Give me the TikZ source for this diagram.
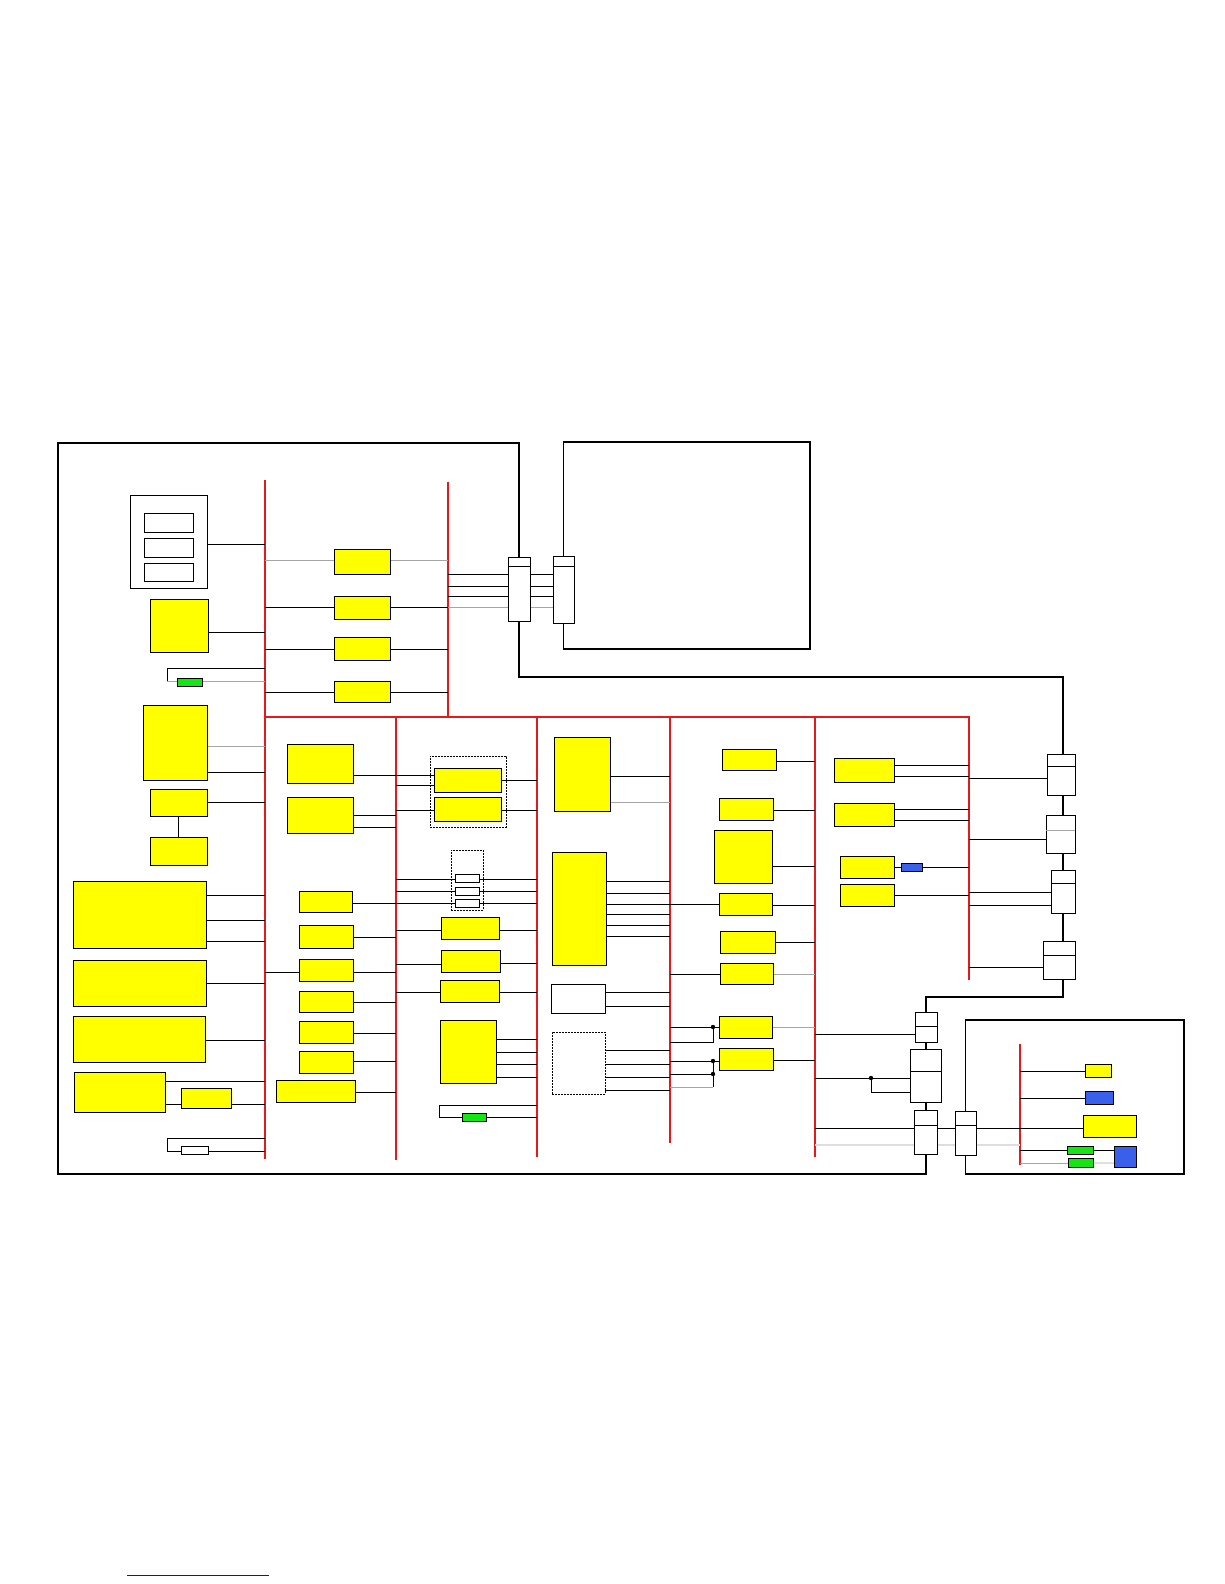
\documentclass[tikz,border=0pt]{standalone}
\usetikzlibrary{backgrounds}
\definecolor{rd}{RGB}{226,26,28}
\definecolor{yl}{RGB}{255,255,0}
\definecolor{gn}{RGB}{20,230,20}
\definecolor{bl}{RGB}{58,95,235}
\definecolor{lnk}{RGB}{20,20,160}
\newcommand\bx[6]{\node[#1,minimum width={(#5-#3)*1pt},minimum height={(#6-#4)*1pt}] (#2) at ({(#3+#5)/2},{(#4+#6)/2}) {};}
\newcommand\kon[6]{\bx{wb}{#1}{#2}{#3}{#4}{#5}\draw[ln] (#1.west |- 0,#6) -- (#1.east |- 0,#6);}
\newcommand\hl[4][ln]{\draw[#1] (#2 |- 0,#4) -- (#3 |- 0,#4);}
\begin{document}
\begin{tikzpicture}[x=1pt,y=-1pt,
  boxbase/.style={draw,line width=0.8pt,inner sep=0pt,outer sep=0pt},
  yb/.style={boxbase,fill=yl},
  wb/.style={boxbase,fill=white},
  gb/.style={boxbase,fill=gn},
  bb/.style={boxbase,fill=bl},
  db/.style={draw,line width=0.8pt,dash pattern=on 1.6pt off 1.4pt,inner sep=0pt,outer sep=0pt},
  ln/.style={line width=0.8pt},
  gl/.style={line width=0.8pt,color=black!35},
  lg/.style={line width=1.6pt,color=black!13},
  frame/.style={line width=1.7pt},
  bus/.style={draw=rd,line width=1.8pt},
  tbus/.style={draw=rd,line width=1.1pt}]
\useasboundingbox (0,0) rectangle (1224,1584);
% ---------- boxes ----------
% column 1
\bx{wb}{w0}{130}{495}{207}{588}
\bx{wb}{w1}{144}{513}{193}{532}
\bx{wb}{w2}{144}{538}{193}{557}
\bx{wb}{w3}{144}{563}{193}{581}
\bx{yb}{a1}{150}{599}{208}{652}
\bx{gb}{g1}{177}{678}{202}{686}
\bx{yb}{a2}{143}{705}{207}{780}
\bx{yb}{a3}{150}{789}{207}{816}
\bx{yb}{a4}{150}{837}{207}{865}
\bx{yb}{a5}{73}{881}{206}{948}
\bx{yb}{a6}{73}{960}{206}{1006}
\bx{yb}{a7}{73}{1016}{205}{1062}
\bx{yb}{a8}{74}{1072}{165}{1112}
\bx{yb}{a9}{181}{1088}{231}{1108}
\bx{wb}{a10}{181}{1146}{208}{1154}
% top column
\bx{yb}{t1}{334}{549}{390}{574}
\bx{yb}{t2}{334}{596}{390}{619}
\bx{yb}{t3}{334}{637}{390}{660}
\bx{yb}{t4}{334}{681}{390}{702}
% column 2
\bx{yb}{c1}{287}{744}{353}{783}
\bx{yb}{c2}{287}{797}{353}{833}
\bx{yb}{c3}{299}{891}{352}{912}
\bx{yb}{c4}{299}{925}{353}{948}
\bx{yb}{c5}{299}{959}{353}{981}
\bx{yb}{c6}{299}{991}{353}{1012}
\bx{yb}{c7}{299}{1021}{353}{1043}
\bx{yb}{c8}{299}{1051}{353}{1073}
\bx{yb}{c9}{276}{1080}{355}{1102}
% column 3
\bx{db}{dA}{430}{756}{506}{827}
\bx{yb}{d1}{434}{768}{501}{792}
\bx{yb}{d2}{434}{797}{501}{821}
\bx{db}{dB}{451}{850}{483}{910}
\bx{wb}{s1}{455}{874}{479}{882}
\bx{wb}{s2}{455}{887}{479}{895}
\bx{wb}{s3}{455}{899}{479}{907}
\bx{yb}{e1}{441}{917}{499}{939}
\bx{yb}{e2}{441}{950}{500}{972}
\bx{yb}{e3}{440}{980}{499}{1002}
\bx{yb}{e4}{440}{1020}{496}{1083}
\bx{gb}{g2}{462}{1113}{486}{1121}
% column 4
\bx{yb}{f1}{554}{737}{610}{811}
\bx{yb}{f2}{552}{852}{606}{965}
\bx{wb}{f3}{551}{984}{605}{1013}
\bx{db}{fD}{552}{1032}{605}{1094}
% column 5
\bx{yb}{h1}{722}{749}{776}{770}
\bx{yb}{h2}{719}{798}{773}{820}
\bx{yb}{h3}{714}{830}{772}{883}
\bx{yb}{h4}{719}{893}{772}{915}
\bx{yb}{h5}{720}{931}{775}{953}
\bx{yb}{h6}{720}{963}{773}{984}
\bx{yb}{h7}{719}{1016}{772}{1038}
\bx{yb}{h8}{719}{1048}{773}{1070}
% column 6
\bx{yb}{i1}{834}{758}{894}{782}
\bx{yb}{i2}{834}{803}{894}{826}
\bx{yb}{i3}{840}{856}{894}{878}
\bx{bb}{bi}{901}{863}{922}{871}
\bx{yb}{i4}{840}{884}{894}{906}
% right box
\bx{yb}{r1}{1085}{1064}{1111}{1077}
\bx{bb}{r2}{1085}{1091}{1113}{1104}
\bx{yb}{r3}{1083}{1115}{1136}{1137}
\bx{gb}{r4}{1067}{1146}{1093}{1154}
\bx{bb}{r5}{1114}{1146}{1136}{1167}
\bx{gb}{r6}{1068}{1158}{1093}{1167}
% connectors
\kon{k1}{508}{557}{530}{621}{566}
\kon{k2}{553}{556}{574}{623}{566}
\kon{kE}{1047}{754}{1075}{795}{766}
\bx{wb}{kF}{1046}{815}{1075}{853}\draw[gl] (kF.west |- 0,830) -- (kF.east |- 0,830);
\kon{kG}{1051}{870}{1075}{913}{883}
\kon{kH}{1043}{941}{1075}{979}{955}
\kon{kA}{915}{1012}{937}{1042}{1026}
\kon{kB}{910}{1049}{941}{1102}{1071}
\kon{kC}{914}{1110}{937}{1154}{1125}
\kon{kD}{955}{1111}{976}{1155}{1125}
% junction dots
\coordinate (dot1) at (713,1027);
\coordinate (dot2) at (713,1061);
\coordinate (dot3) at (713,1074);
\coordinate (dot4) at (871,1078);
\foreach \d in {dot1,dot2,dot3,dot4} {\fill (\d) circle (2.2);}
% link
\coordinate (lk1) at (127,1575);
\coordinate (lk2) at (269,1575);
\draw[lnk,line width=1pt] (lk1) -- (lk2);
% bus coordinates
\coordinate (b1) at (265,0);
\coordinate (bt) at (448,0);
\coordinate (b2) at (396,0);
\coordinate (b3) at (537,0);
\coordinate (b4) at (670,0);
\coordinate (b5) at (815,0);
\coordinate (b6) at (969,0);
\coordinate (br) at (1020,0);
\begin{pgfonlayer}{background}
\fill[white] (0,0) rectangle (1224,1584);
% frames
\draw[frame] (k1.south) -- (519,677) -- (1063,677) -- (1063,997) -- (926,997) -- (926,1174) -- (58,1174) -- (58,443) -- (519,443) -- (k1.north);
\draw[frame] (k2.north) -- (k2.north |- 0,442) -- (810,442) -- (810,649) -- (k2.south |- 0,649) -- (k2.south);
\draw[frame] (kD.north) -- (kD.north |- 0,1020) -- (1184,1020) -- (1184,1174) -- (kD.south |- 0,1174) -- (kD.south);
% buses
\draw[tbus] (b1 |- 0,480) -- (b1 |- 0,1159);
\draw[bus] (bt |- 0,482) -- (bt |- 0,717);
\draw[bus] (b1 |- 0,717) -- (b6 |- 0,717) -- (b6 |- 0,980);
\draw[bus] (b2 |- 0,717) -- (b2 |- 0,1160);
\draw[tbus] (b3 |- 0,717) -- (b3 |- 0,1157);
\draw[bus] (b4 |- 0,717) -- (b4 |- 0,1143);
\draw[bus] (b5 |- 0,717) -- (b5 |- 0,1157);
\draw[tbus] (br |- 0,1044) -- (br |- 0,1165);
% column 1 lines
\hl{w0.east}{b1}{544}
\hl{a1.east}{b1}{632}
\draw[ln] (b1 |- 0,668) -- (167,668) -- (167,681);
\draw[gl] (167,681) -- (g1.west |- 0,681);
\hl[gl]{g1.east}{b1}{681}
\hl[gl]{a2.east}{b1}{746}
\hl{a2.east}{b1}{772}
\hl{a3.east}{b1}{802}
\draw[ln] (a3.south) -- (a4.north);
\foreach \yy in {895,920,941} {\hl{a5.east}{b1}{\yy}}
\hl{a6.east}{b1}{983}
\hl{a7.east}{b1}{1040}
\hl{a8.east}{b1}{1081}
\hl{a8.east}{a9.west}{1104}
\hl{a9.east}{b1}{1104}
\draw[ln] (b1 |- 0,1138) -- (167,1138) -- (167,1151) -- (a10.west |- 0,1151);
\hl{a10.east}{b1}{1151}
% top column lines
\hl[gl]{b1}{t1.west}{560}
\hl[gl]{t1.east}{bt}{560}
\hl{b1}{t2.west}{607}
\hl{t2.east}{bt}{607}
\hl{b1}{t3.west}{649}
\hl{t3.east}{bt}{649}
\hl{b1}{t4.west}{692}
\hl{t4.east}{bt}{692}
\foreach \yy in {574,586,596} {\hl{bt}{k1.west}{\yy}\hl{k1.east}{k2.west}{\yy}}
\hl[gl]{bt}{k1.west}{607}
\hl[gl]{k1.east}{k2.west}{607}
% column 2/3 lines
\hl{c1.east}{d1.west}{775}
\hl{c2.east}{b2}{815}
\hl{c2.east}{b2}{827}
\hl{b2}{d1.west}{785}
\hl{b2}{d2.west}{810}
\hl{d1.east}{b3}{780}
\hl{d2.east}{b3}{810}
\hl{b2}{b3}{879}
\hl{b2}{b3}{891}
\hl{c3.east}{b3}{903}
\hl{c4.east}{b2}{937}
\hl{b2}{e1.west}{930}
\hl{e1.east}{b3}{930}
\hl{b1}{c5.west}{972}
\hl{c5.east}{b2}{972}
\hl{b2}{e2.west}{964}
\hl{e2.east}{b3}{963}
\hl{c6.east}{b2}{1002}
\hl{b2}{e3.west}{992}
\hl{e3.east}{b3}{992}
\hl{c7.east}{b2}{1033}
\hl{c8.east}{b2}{1061}
\hl{c9.east}{b2}{1092}
\foreach \yy in {1039,1052,1064,1077} {\hl{e4.east}{b3}{\yy}}
\draw[ln] (b3 |- 0,1105) -- (439,1105) -- (439,1117) -- (g2.west |- 0,1117);
\hl{g2.east}{b3}{1117}
% column 4 lines
\hl{f1.east}{b4}{776}
\hl[gl]{f1.east}{b4}{802}
\foreach \yy in {881,893,904,914,925,936} {\hl{f2.east}{b4}{\yy}}
\hl{f3.east}{b4}{992}
\hl{f3.east}{b4}{1006}
\foreach \yy in {1050,1064,1077,1090} {\hl{fD.east}{b4}{\yy}}
% column 5 lines
\hl{h1.east}{b5}{761}
\hl{h2.east}{b5}{810}
\hl{h3.east}{b5}{866}
\hl{b4}{h4.west}{904}
\hl{h4.east}{b5}{905}
\hl{h5.east}{b5}{942}
\hl{b4}{h6.west}{974}
\hl[gl]{h6.east}{b5}{974}
\hl{b4}{h7.west}{1027}
\draw[ln] (dot1) -- (713,1042) -- (b4 |- 0,1042);
\hl[gl]{h7.east}{b5}{1027}
\hl{b4}{h8.west}{1061}
\hl{b4}{dot3}{1074}
\draw[ln] (dot2) -- (713,1087);
\draw[gl] (713,1087) -- (b4 |- 0,1087);
\hl{h8.east}{b5}{1060}
% column 6 lines
\hl{i1.east}{b6}{765}
\hl{i1.east}{b6}{776}
\hl{i2.east}{b6}{809}
\hl{i2.east}{b6}{820}
\hl{i3.east}{bi.west}{867}
\hl{bi.east}{b6}{867}
\hl{i4.east}{b6}{895}
\hl{b6}{kE.west}{778}
\hl{b6}{kF.west}{839}
\hl{b6}{kG.west}{892}
\hl{b6}{kG.west}{905}
\hl{b6}{kH.west}{967}
% right area lines
\hl{b5}{kA.west}{1034}
\hl{b5}{kB.west}{1078}
\draw[ln] (dot4) -- (871,1092) -- (kB.west |- 0,1092);
\draw[lg] (b5 |- 0,1145) -- (br |- 0,1145);
\hl{b5}{r3.west}{1128}
\hl{br}{r1.west}{1071}
\hl{br}{r2.west}{1098}
\hl{br}{r4.west}{1150}
\hl{r4.east}{r5.west}{1150}
\hl[gl]{br}{r6.west}{1163}
\draw[line width=1.2pt,color=black!12] (r6.east |- 0,1163) -- (r5.west |- 0,1163);
\end{pgfonlayer}
\end{tikzpicture}
\end{document}
